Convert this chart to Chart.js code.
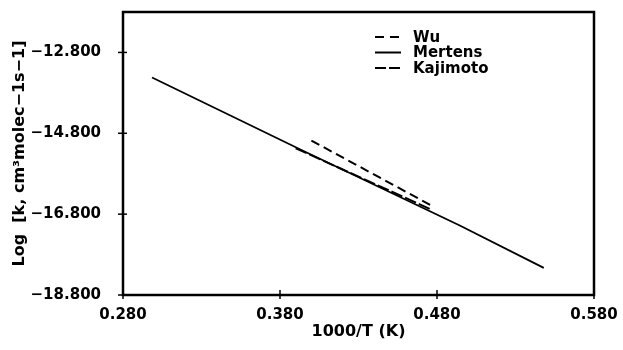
<!DOCTYPE html>
<html>
<head>
<meta charset="utf-8">
<script src="https://cdn.jsdelivr.net/npm/chart.js@4.4.0/dist/chart.umd.min.js"></script>
<style>
  body { margin: 0; background: #fff; }
  #wrap { width: 623px; height: 350px; }
</style>
</head>
<body>
<div id="wrap"><canvas id="rateChart" width="623" height="350"></canvas></div>
<script>
// 1000/T (K) against log k
const mertensX = [0.2985, 0.393, 0.4945, 0.548];
const mertensY = [-13.42, -15.20, -17.08, -18.13];
const wuX = [0.400, 0.477];
const wuY = [-14.98, -16.60];
const kajimotoX = [0.390, 0.476];
const kajimotoY = [-15.17, -16.68];

const xTicks = [0.28, 0.38, 0.48, 0.58];
const yTicks = [-18.8, -16.8, -14.8, -12.8];

const FONT = 'DejaVu Sans';

function toPoints(xs, ys) {
    return xs.map((x, i) => ({ x: x, y: ys[i] }));
}

function fmt(v) {
    return v.toFixed(3).replace('-', '\u2212');
}

// frame, crossing tick marks and the in-plot legend
const framePlugin = {
    id: 'frame',
    afterDraw(chart) {
        const ctx = chart.ctx;
        const a = chart.chartArea;
        const xs = chart.scales.x, ys = chart.scales.y;
        ctx.save();
        ctx.strokeStyle = '#000';
        ctx.lineWidth = 2.5;
        ctx.strokeRect(a.left, a.top, a.right - a.left, a.bottom - a.top);
        ctx.lineWidth = 1.5;
        yTicks.forEach(v => {
            const py = ys.getPixelForValue(v);
            ctx.beginPath(); ctx.moveTo(a.left - 5, py); ctx.lineTo(a.left + 4, py); ctx.stroke();
        });
        xTicks.forEach(v => {
            const px = xs.getPixelForValue(v);
            ctx.beginPath(); ctx.moveTo(px, a.bottom - 5); ctx.lineTo(px, a.bottom + 4); ctx.stroke();
        });

        // legend
        const lx = 375, ly = 37, row = 15.5;
        ctx.font = 'bold 15px "' + FONT + '"';
        ctx.textBaseline = 'middle';
        ctx.fillStyle = '#000';
        chart.data.datasets.forEach((ds, i) => {
            const y = ly + i * row;
            ctx.lineWidth = 2;
            ctx.setLineDash(ds.legendDash || []);
            ctx.beginPath(); ctx.moveTo(lx, y); ctx.lineTo(lx + 26, y); ctx.stroke();
            ctx.setLineDash([]);
            ctx.fillText(ds.label, lx + 38, y + 1);
        });
        ctx.restore();
    }
};

const ctx = document.getElementById('rateChart').getContext('2d');

new Chart(ctx, {
    type: 'line',
    data: {
        datasets: [
            {
                label: 'Wu',
                data: toPoints(wuX, wuY),
                borderColor: '#000',
                borderWidth: 2,
                borderDash: [9, 5],
                legendDash: [9, 6],
                pointRadius: 0,
                tension: 0
            },
            {
                label: 'Mertens',
                data: toPoints(mertensX, mertensY),
                borderColor: '#000',
                borderWidth: 1.8,
                pointRadius: 0,
                tension: 0
            },
            {
                label: 'Kajimoto',
                data: toPoints(kajimotoX, kajimotoY),
                borderColor: '#000',
                borderWidth: 2,
                borderDash: [12, 3],
                legendDash: [11, 3],
                pointRadius: 0,
                tension: 0
            }
        ]
    },
    options: {
        responsive: false,
        animation: false,
        layout: { padding: { top: 12, right: 29, left: 0, bottom: 0 } },
        scales: {
            x: {
                type: 'linear',
                min: 0.28,
                max: 0.58,
                afterBuildTicks: s => { s.ticks = xTicks.map(v => ({ value: v })); },
                afterFit: s => { s.height = 55; s.paddingLeft = 0; s.paddingRight = 0; },
                grid: { display: false },
                border: { display: false },
                ticks: {
                    padding: 3,
                    maxRotation: 0,
                    color: '#000',
                    font: { family: FONT, size: 15, weight: 'bold' },
                    callback: v => fmt(v)
                },
                title: {
                    display: true,
                    text: '1000/T (K)',
                    color: '#000',
                    padding: { top: 0, bottom: 9 },
                    font: { family: FONT, size: 16, weight: 'bold' }
                }
            },
            y: {
                type: 'linear',
                min: -18.8,
                max: -11.8,
                afterBuildTicks: s => { s.ticks = yTicks.map(v => ({ value: v })); },
                afterFit: s => { s.width = 123; s.paddingTop = 0; s.paddingBottom = 0; },
                grid: { display: false },
                border: { display: false },
                ticks: {
                    padding: 14,
                    color: '#000',
                    font: { family: FONT, size: 15, weight: 'bold' },
                    callback: v => fmt(v)
                },
                title: {
                    display: true,
                    text: 'Log  [k, cm\u00b3molec\u22121s\u22121]',
                    color: '#000',
                    padding: { top: 10, bottom: 0 },
                    font: { family: FONT, size: 16, weight: 'bold' }
                }
            }
        },
        plugins: {
            legend: { display: false },
            tooltip: { enabled: false }
        }
    },
    plugins: [framePlugin]
});
</script>
</body>
</html>
